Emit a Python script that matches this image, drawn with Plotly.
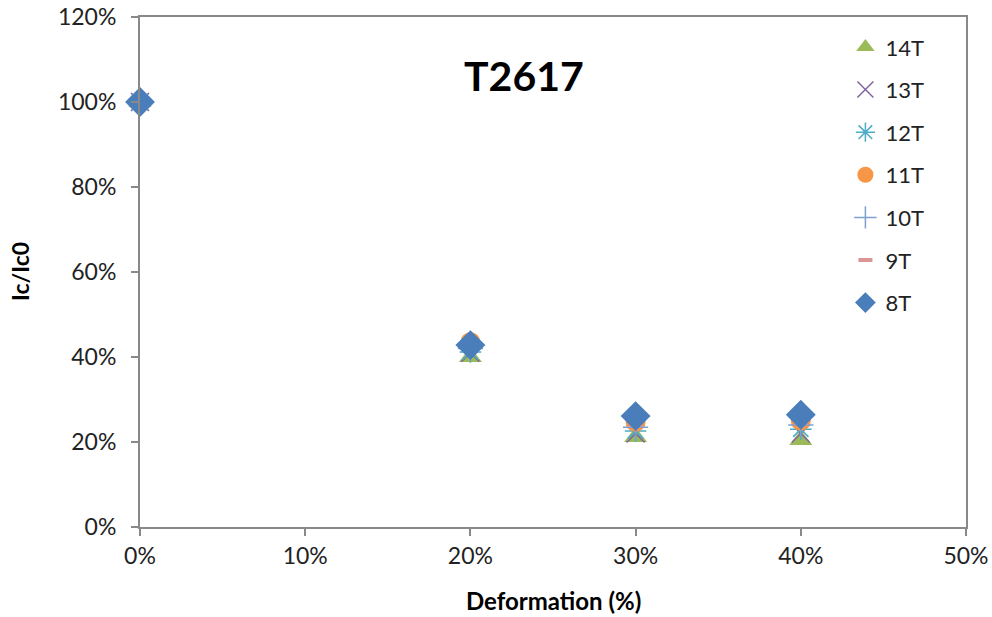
import plotly.graph_objects as go

deformation = [0.0, 0.2, 0.3, 0.4]
series_names = ["14T", "13T", "12T", "11T", "10T", "9T", "8T"]
v14 = [1.0, 0.400, 0.212, 0.205]
v13 = [1.0, 0.410, 0.220, 0.220]
v12 = [1.0, 0.412, 0.226, 0.230]
v11 = [1.0, 0.435, 0.247, 0.250]
v10 = [1.0, 0.420, 0.235, 0.240]
v9 = [1.0, 0.425, 0.240, 0.245]
v8 = [1.0, 0.428, 0.261, 0.264]
values = [v14, v13, v12, v11, v10, v9, v8]

styles = [
    dict(symbol="triangle-up", color="#9BBB59", size=20),
    dict(symbol="x-thin", color="#8064A2", size=18, line=dict(width=1.5, color="#8064A2")),
    dict(symbol="asterisk", color="#4BACC6", size=18, line=dict(width=1.5, color="#4BACC6")),
    dict(symbol="circle", color="#F79646", size=20),
    dict(symbol="cross-thin", color="#7F9FD0", size=18, line=dict(width=1.5, color="#7F9FD0")),
    dict(symbol="line-ew", color="#D99694", size=10, line=dict(width=4, color="#D99694")),
    dict(symbol="diamond", color="#4A7EBB", size=23),
]

FONT = "Lato, 'Open Sans', sans-serif"

W, H = 992, 617
ML, MR, MT, MB = 140, 26, 17, 90

fig = go.Figure()
for name, vals, st in zip(series_names, values, styles):
    fig.add_trace(go.Scatter(
        x=deformation, y=vals, mode="markers", name=name,
        legendgroup=name, marker=st, cliponaxis=False,
    ))

fig.update_layout(
    width=W, height=H,
    margin=dict(l=ML, r=MR, t=MT, b=MB),
    plot_bgcolor="white", paper_bgcolor="white",
    font=dict(family=FONT, size=23, color="#222"),
    showlegend=True,
    legend=dict(x=0.854, y=0.982, xanchor="left", yanchor="top",
                font=dict(size=22, family=FONT, color="#222"),
                tracegroupgap=11, bgcolor="rgba(0,0,0,0)",
                itemwidth=30),
)
pw, ph = W - ML - MR, H - MT - MB
def px(xp):
    return (xp - ML) / pw
def py(yp):
    return (H - MB - yp) / ph

fig.add_annotation(text="<b>T2617</b>", x=px(524), y=py(75), xref="paper", yref="paper",
                   xanchor="center", yanchor="middle",
                   showarrow=False, font=dict(size=41, family=FONT, color="black"))
fig.add_annotation(text="<b>Deformation (%)</b>", x=px(553), y=py(600), xref="paper", yref="paper",
                   xanchor="center", yanchor="middle",
                   showarrow=False, font=dict(size=24, family=FONT, color="black"))
fig.add_annotation(text="<b>Ic/Ic0</b>", x=px(20), y=py(272), xref="paper", yref="paper",
                   xanchor="center", yanchor="middle",
                   showarrow=False, textangle=-90, font=dict(size=23, family=FONT, color="black"))

fig.update_xaxes(
    range=[0, 0.5], tickvals=[0, 0.1, 0.2, 0.3, 0.4, 0.5], tickformat=".0%",
    showgrid=False, zeroline=False, showline=True, linecolor="#898989", linewidth=2,
    mirror=True, ticks="outside", ticklen=7, tickcolor="#898989", tickwidth=2,
    automargin=False, ticklabeloverflow="allow",
    tickfont=dict(size=23, family=FONT, color="#222"),
)
fig.update_yaxes(
    range=[0, 1.2], tickvals=[0, 0.2, 0.4, 0.6, 0.8, 1.0, 1.2], tickformat=".0%",
    showgrid=False, zeroline=False, showline=True, linecolor="#898989", linewidth=2,
    mirror=True, ticks="outside", ticklen=7, tickcolor="#898989", tickwidth=2,
    automargin=False, ticklabeloverflow="allow", ticklabelstandoff=10,
    tickfont=dict(size=23, family=FONT, color="#222"),
)

fig.write_html("out.html", config={"displayModeBar": False},
               post_script="document.body.style.margin='0';document.body.style.padding='0';")
